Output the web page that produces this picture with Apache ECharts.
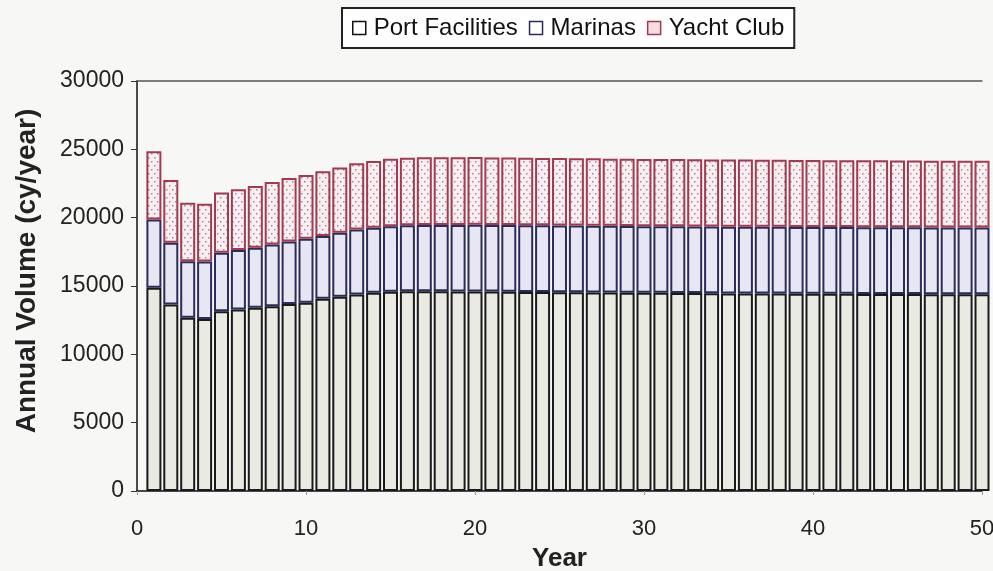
<!DOCTYPE html>
<html>
<head>
<meta charset="utf-8">
<title>Annual Volume</title>
<script src="https://cdn.jsdelivr.net/npm/echarts@6/dist/echarts.min.js"></script>
<style>
    html, body {margin:0; padding:0; background:#f7f7f5;}
    #chart {width:993px; height:571px;}
</style>
</head>
<body>
<div id="chart"></div>
<script>
// years 0..50, bars start at year 1
var years = [];
for (var i = 0; i <= 50; i++) { years.push(String(i)); }

var portFacilities = [
    14870,13640,12670,12590,13150,13280,13400,13520,13680,13780,
    14060,14210,14380,14500,14580,14620,14620,14610,14600,14600,
    14590,14580,14570,14560,14550,14540,14530,14520,14510,14500,
    14500,14490,14480,14470,14460,14460,14450,14450,14440,14440,
    14430,14430,14420,14420,14410,14410,14400,14400,14400,14400
];
var marinas = [
    5000,4530,4150,4200,4280,4350,4400,4520,4570,4680,
    4600,4690,4760,4770,4800,4830,4850,4860,4870,4880,
    4880,4880,4880,4880,4880,4880,4880,4880,4880,4880,
    4880,4880,4880,4880,4880,4880,4880,4880,4880,4880,
    4880,4880,4880,4880,4880,4880,4880,4880,4880,4880
];
var yachtClub = [
    4990,4590,4280,4230,4410,4450,4520,4570,4650,4660,
    4730,4770,4850,4880,4940,4940,4950,4950,4950,4950,
    4940,4940,4940,4930,4930,4930,4930,4920,4920,4920,
    4920,4920,4910,4910,4910,4910,4910,4900,4900,4900,
    4900,4900,4900,4900,4890,4890,4890,4890,4890,4890
];
var seriesNames = ['Port Facilities', 'Marinas', 'Yacht Club'];
var yTicks = [0, 5000, 10000, 15000, 20000, 25000, 30000];

// year 0 has no bar
var withGap = function(arr){
    return ['-'].concat(arr);
};

// dotted fill for the yacht club bars
var makeDots = function(){
    var c = document.createElement('canvas');
    c.width = 6; c.height = 8;
    var ctx = c.getContext('2d');
    ctx.fillStyle = '#faeef0';
    ctx.fillRect(0, 0, 6, 8);
    ctx.fillStyle = '#8f8fa0';
    ctx.fillRect(1, 1, 1.5, 1.5);
    ctx.fillRect(4, 5, 1.5, 1.5);
    return c;
};

var font = '"Liberation Sans", Arial, sans-serif';

var chart = echarts.init(document.getElementById('chart'));
chart.setOption({
    backgroundColor: '#f7f7f5',
    animation: false,
    textStyle: {fontFamily: font, color: '#111'},
    legend: {
        top: 8,
        left: 342,
        padding: [8, 10, 8, 10],
        backgroundColor: '#fff',
        borderColor: '#222',
        borderWidth: 2,
        itemWidth: 13,
        itemHeight: 13,
        itemGap: 11,
        icon: 'rect',
        textStyle: {fontSize: 24, color: '#111', fontFamily: font, padding: [0, 0, 0, 3]},
        data: [
            {name: seriesNames[0], itemStyle: {color: '#fff', borderColor: '#111', borderWidth: 1.5}},
            {name: seriesNames[1], itemStyle: {color: '#fff', borderColor: '#2b2b5c', borderWidth: 1.5}},
            {name: seriesNames[2], itemStyle: {color: '#f7dde2', borderColor: '#a33a52', borderWidth: 1.5}}
        ]
    },
    grid: {left: 137, right: 11, top: 81, bottom: 80, outerBoundsMode: 'none'},
    xAxis: [{
        type: 'category',
        data: years,
        boundaryGap: false,
        name: 'Year',
        nameLocation: 'middle',
        nameGap: 55,
        nameTextStyle: {fontSize: 26, fontWeight: 'bold', color: '#222'},
        axisLine: {lineStyle: {color: '#111', width: 1.5}},
        axisTick: {show: true, interval: 9, length: 4, inside: false, lineStyle: {color: '#999'}},
        axisLabel: {interval: 9, fontSize: 22, color: '#222', margin: 27},
        splitLine: {show: false}
    }, {
        type: 'category',
        data: years,
        boundaryGap: false,
        position: 'top',
        axisLine: {lineStyle: {color: '#555', width: 1.5}},
        axisTick: {show: false},
        axisLabel: {show: false}
    }],
    yAxis: {
        type: 'value',
        min: yTicks[0],
        max: yTicks[yTicks.length - 1],
        interval: 5000,
        name: 'Annual Volume (cy/year)',
        nameLocation: 'middle',
        nameGap: 96,
        nameTextStyle: {fontSize: 28, fontWeight: 'bold', color: '#222', padding: [0, 0, 0, 30]},
        axisLine: {show: true, lineStyle: {color: '#111', width: 1.5}},
        axisTick: {show: true, length: 6, lineStyle: {color: '#333'}},
        axisLabel: {fontSize: 23, color: '#222', margin: 13, formatter: function(v){ return String(v); }},
        splitLine: {show: false}
    },
    series: [{
        name: seriesNames[0],
        type: 'bar',
        stack: 'vol',
        barWidth: 15,
        data: withGap(portFacilities),
        itemStyle: {color: '#e9eae2', borderColor: '#1a1a1a', borderWidth: 2}
    }, {
        name: seriesNames[1],
        type: 'bar',
        stack: 'vol',
        barWidth: 15,
        data: withGap(marinas),
        itemStyle: {color: '#e7e6f3', borderColor: '#2b2b5c', borderWidth: 2}
    }, {
        name: seriesNames[2],
        type: 'bar',
        stack: 'vol',
        barWidth: 15,
        data: withGap(yachtClub),
        itemStyle: {color: {image: makeDots(), repeat: 'repeat'}, borderColor: '#a33a52', borderWidth: 2}
    }]
});
</script>
</body>
</html>
